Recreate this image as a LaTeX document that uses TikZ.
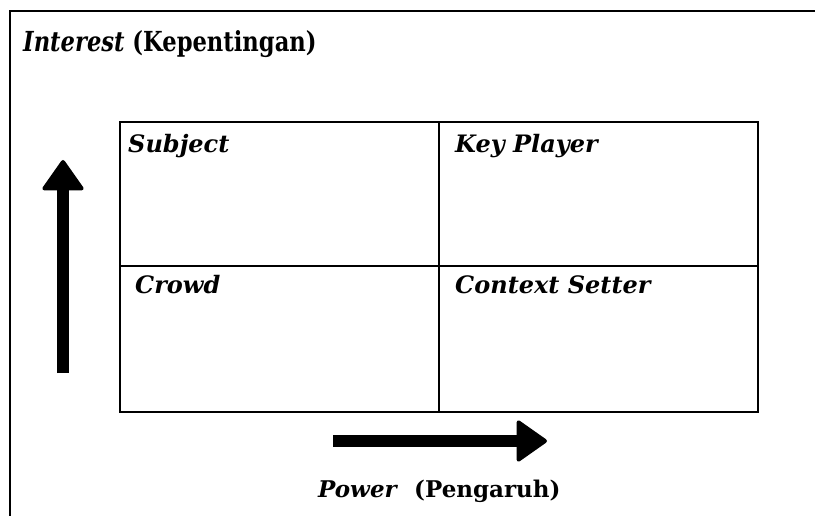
\documentclass[tikz,border=0pt]{standalone}
\usepackage{fontspec}
\setmainfont{DejaVu Serif}
\newfontfamily\narrowserif{DejaVu Serif}[FakeStretch=0.82]
\usetikzlibrary{arrows.meta, positioning}

\begin{document}
\begin{tikzpicture}[x=1pt, y=-1pt,
          frame/.style={line width=2pt},
          cell/.style={rectangle, draw, line width=1.8pt, minimum width=319pt,
                       inner sep=0pt, outer sep=0pt, anchor=north west},
          celltext/.style={anchor=base west, inner sep=0pt,
                           font=\fontsize{24}{28}\selectfont\bfseries\itshape},
          axistext/.style={anchor=base west, inner sep=0pt,
                           font=\fontsize{23}{27}\selectfont\bfseries},
          bigarr/.style={line width=12pt,
                         -{Triangle[length=32pt, width=44pt, line width=4pt, round]}}
        ]
          \useasboundingbox (0,0) rectangle (815,516);
          \draw[frame] (10,516) -- (10,11) -- (815,11);
          \node[axistext, font=\narrowserif\fontsize{27.6}{31}\selectfont\bfseries] (interest) at (23,52)
            {\textit{Interest} (Kepentingan)};
          % the four quadrants
          \node[cell, minimum height=144pt] (subject) at (120,122) {};
          \node[cell, minimum height=144pt] (keyplayer) at (439,122) {};
          \node[cell, minimum height=146pt] (crowd) at (120,266) {};
          \node[cell, minimum height=146pt] (context) at (439,266) {};
          \node[celltext] (subjectlbl) at (128,153) {Subject};
          \node[celltext] (keyplayerlbl) at (455,153) {Key Player};
          \node[celltext] (crowdlbl) at (135,294) {Crowd};
          \node[celltext] (contextlbl) at (455,294) {Context Setter};
          % axes
          \coordinate (upfrom) at (63,373);
          \coordinate (upto) at (63,160);
          \draw[bigarr] (upfrom) -- (upto);
          \coordinate (rightfrom) at (333,441);
          \coordinate (rightto) at (547,441);
          \draw[bigarr] (rightfrom) -- (rightto);
          \node[axistext] (power) at (318,497) {\textit{Power}\ \ (Pengaruh)};
        \end{tikzpicture}
\end{document}
